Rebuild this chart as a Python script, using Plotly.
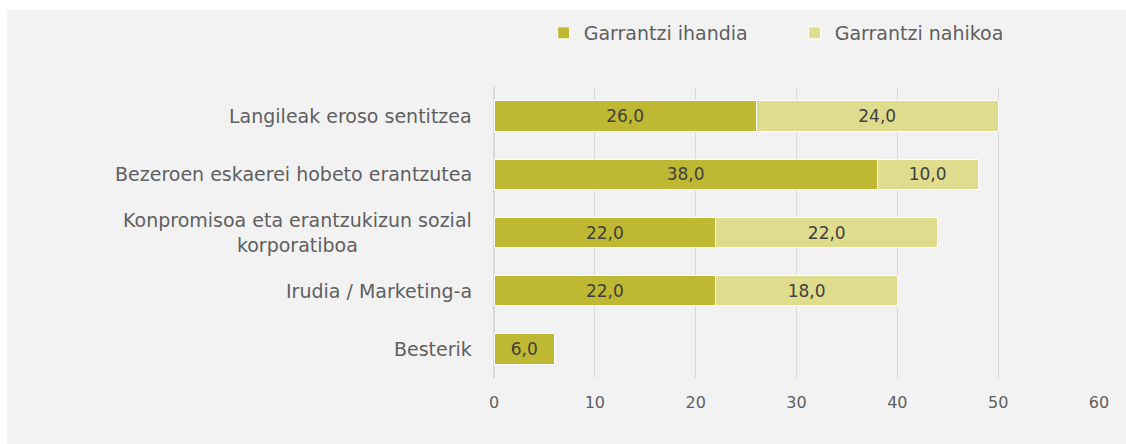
import plotly.graph_objects as go

categories = [
    "Langileak eroso sentitzea",
    "Bezeroen eskaerei hobeto erantzutea",
    "Konpromisoa eta erantzukizun sozial<br>korporatiboa",
    "Irudia / Marketing-a",
    "Besterik",
]
series_names = ["Garrantzi ihandia", "Garrantzi nahikoa"]
ihandia = [26.0, 38.0, 22.0, 22.0, 6.0]
nahikoa = [24.0, 10.0, 22.0, 18.0, None]
x_ticks = [0, 10, 20, 30, 40, 50, 60]

colors = ["#bfb832", "#e0dc8e"]
FONT = "DejaVu Sans"
W, H = 1126, 444
ML, MR, MT, MB = 494, 27, 87, 66
PW, PH = W - ML - MR, H - MT - MB

fig = go.Figure()
for name, vals, col in zip(series_names, [ihandia, nahikoa], colors):
    fig.add_trace(go.Bar(
        y=categories, x=vals, name=name, orientation="h",
        marker=dict(color=col, line=dict(color="white", width=1)),
        texttemplate="%{x:.1f}", textposition="inside", insidetextanchor="middle",
        textfont=dict(family=FONT, size=17, color="#404040"),
        hoverinfo="skip",
    ))

for c in categories:
    fig.add_annotation(
        x=-20 / PW, xref="paper", y=c, yref="y", text=c, showarrow=False,
        xanchor="right", yanchor="middle", align="center",
        font=dict(family=FONT, size=19, color="#5f5f5f"),
    )

fig.add_shape(
    type="rect", xref="paper", yref="paper", layer="below",
    x0=(7 - ML) / PW, x1=(W - ML + 5) / PW,
    y0=-(MB + 5) / PH, y1=1 + (MT - 10) / PH,
    fillcolor="#f2f2f2", line=dict(width=0),
)

fig.update_layout(
    width=W, height=H, barmode="stack", bargap=0.48,
    margin=dict(l=ML, r=MR, t=MT, b=MB),
    paper_bgcolor="white", plot_bgcolor="white",
    separators=",.",
    font=dict(family=FONT, color="#5f5f5f"),
    legend=dict(
        orientation="h", x=0.497, xanchor="center", y=1 + 54 / PH, yanchor="middle",
        font=dict(family=FONT, size=19, color="#5f5f5f"),
        bgcolor="rgba(0,0,0,0)", entrywidth=206, traceorder="normal",
    ),
    xaxis=dict(
        range=[0, 60], tickvals=x_ticks, showgrid=True, gridcolor="#d9d9d9",
        gridwidth=1, zeroline=True, zerolinecolor="#d9d9d9", showline=False,
        tickfont=dict(family=FONT, size=16, color="#5f5f5f"),
        ticklabelstandoff=13,
    ),
    yaxis=dict(
        autorange="reversed", showticklabels=False, showgrid=False,
        zeroline=False, showline=False,
    ),
)

fig.write_html(
    "out.html",
    config={"displayModeBar": False},
    post_script="document.body.style.margin='0';document.body.style.overflow='hidden';",
)
